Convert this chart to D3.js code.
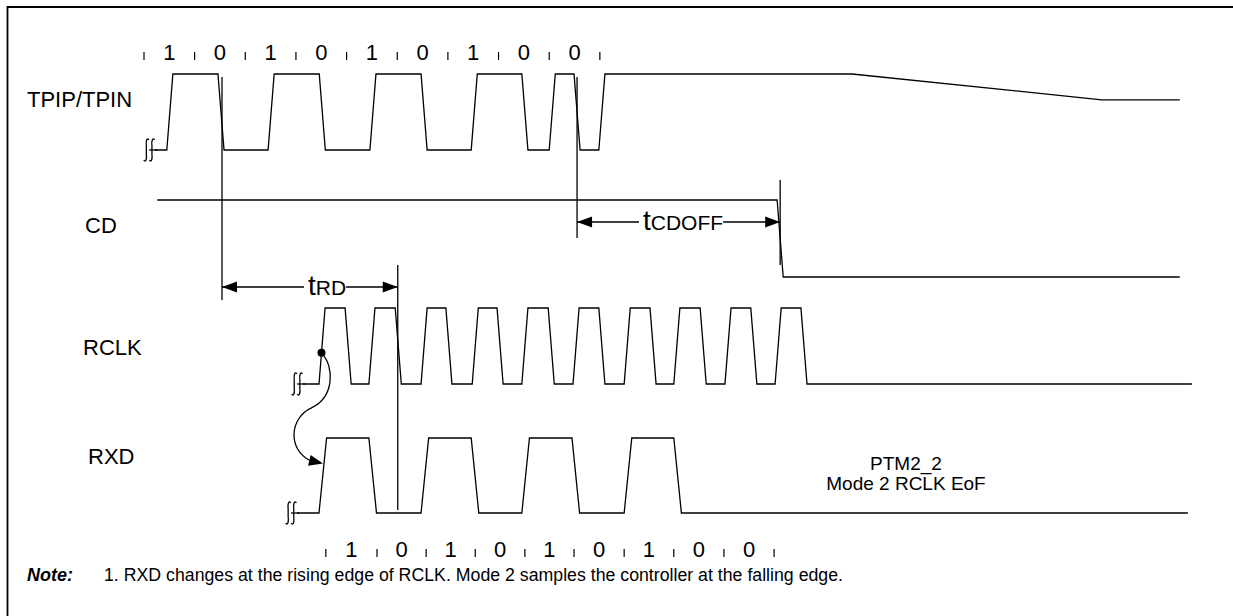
<!DOCTYPE html>
<html><head><meta charset="utf-8">
<script src="https://cdn.jsdelivr.net/npm/d3@7"></script>
<style>
body{margin:0;background:#fff}
svg{display:block}
text{font-family:"Liberation Sans",Arial,Helvetica,sans-serif;fill:#000}
</style>
</head><body>
<svg id="chart" width="1233" height="616"></svg>
<script>
// ---------------- data (time in bit periods) ----------------
const signalNames = ["TPIP/TPIN", "CD", "RCLK", "RXD"];

const tpipStart = [0.22, 0];
const tpipEdges = [[0.45,1],[1.46,0],[2.45,1],[3.46,0],[4.46,1],[5.47,0],[6.46,1],[7.46,0],[8.00,1],[8.49,0],[8.98,1],[13.98,0.66,4.93]];
const tpipEnd = 20.45;

const cdStart = [0.26, 1];
const cdEdges = [[12.50,0]];
const cdEnd = 20.45;

const rclkStart = [3.14, 0];
const rclkRise = [3.455,4.44,5.47,6.48,7.46,8.47,9.48,10.46,11.47,12.46];
const rclkFall = [3.97,4.96,5.96,6.97,7.98,8.98,9.99,10.98,11.98,12.97];
const rclkEnd = 20.69;

const rxdStart = [3.02, 0];
const rxdEdges = [[3.455,1],[4.44,0],[5.47,1],[6.46,0],[7.46,1],[8.45,0],[9.48,1],[10.46,0]];
const rxdEnd = 20.61;

const topTicks = [0,1,2,3,4,5,6,7,8,9];
const topBits = ["1","0","1","0","1","0","1","0","0"];
const bottomTicks = [3.59,4.60,5.57,6.54,7.52,8.49,9.48,10.46,11.45,12.44];
const bottomBits = ["1","0","1","0","1","0","1","0","0"];

const markerTimes = {tpipFall:1.54, tpipLast:8.55, cdFall:12.56, rclkRef:5.01};
const timingLabels = [["t","RD"],["t","CDOFF"]];
const noteLabel = "Note:";
const noteText = "1. RXD changes at the rising edge of RCLK. Mode 2 samples the controller at the falling edge.";
const captionLines = ["PTM2_2","Mode 2 RCLK EoF"];

// ---------------- layout ----------------
const svg = d3.select("#chart");
const x = d3.scaleLinear().domain([0,20]).range([144,1157]);
const rows = {
  tpip: d3.scaleLinear().domain([0,1]).range([150,74]),
  cd:   d3.scaleLinear().domain([0,1]).range([277,200]),
  rclk: d3.scaleLinear().domain([0,1]).range([384,308]),
  rxd:  d3.scaleLinear().domain([0,1]).range([513,438])
};
const SW = 1.3;

// frame
svg.append("path").attr("d","M7.5,616 L7.5,7 L1233,7").attr("fill","none").attr("stroke","#000").attr("stroke-width",1.8);

function wavePoints(start, edges, end, slew){
  const pts=[[start[0],start[1]]]; let cur=start[1];
  edges.forEach(e=>{ const d=e[2]===undefined?slew:e[2]; pts.push([e[0],cur]); pts.push([e[0]+d,e[1]]); cur=e[1]; });
  pts.push([end,cur]); return pts;
}
const rclkEdges = rclkRise.map((r,i)=>[[r,1],[rclkFall[i],0]]).flat();

const waves = [
  {y:rows.tpip, pts:wavePoints(tpipStart,tpipEdges,tpipEnd,0.12)},
  {y:rows.cd,   pts:wavePoints(cdStart,cdEdges,cdEnd,0.12)},
  {y:rows.rclk, pts:wavePoints(rclkStart,rclkEdges,rclkEnd,0.12)},
  {y:rows.rxd,  pts:wavePoints(rxdStart,rxdEdges,rxdEnd,0.15)}
];
waves.forEach(w=>{
  const line=d3.line().x(d=>x(d[0])).y(d=>w.y(d[1]));
  svg.append("path").attr("d",line(w.pts)).attr("fill","none").attr("stroke","#000").attr("stroke-width",SW).attr("stroke-linejoin","miter");
});

// break symbols
function breakSym(cx, cy){
  [-2.8, 2.8].forEach(dx=>{
    const xx=cx+dx;
    svg.append("path").attr("d",`M${xx+2.6},${cy-10} C${xx+0.6},${cy-13} ${xx-0.6},${cy-9} ${xx},${cy-4} L${xx},${cy+4} C${xx+0.6},${cy+9} ${xx-0.6},${cy+13} ${xx-2.6},${cy+10}`)
      .attr("fill","none").attr("stroke","#000").attr("stroke-width",1.3);
  });
  svg.append("line").attr("x1",cx).attr("x2",cx+8).attr("y1",cy).attr("y2",cy).attr("stroke","#000").attr("stroke-width",SW);
}
breakSym(x(tpipStart[0])-6, rows.tpip(0));
breakSym(x(rclkStart[0])-6, rows.rclk(0));
breakSym(x(rxdStart[0])-6, rows.rxd(0));

// vertical markers
function vline(t,y1,y2){ svg.append("line").attr("x1",x(t)).attr("x2",x(t)).attr("y1",y1).attr("y2",y2).attr("stroke","#000").attr("stroke-width",SW); }
vline(markerTimes.tpipFall, 77, 300);
vline(markerTimes.tpipLast, 77, 238);
vline(markerTimes.cdFall, 180, 265);
vline(markerTimes.rclkRef, 265, 510);

// timing arrows
function arrowHead(tipX, y, dir){
  const L=15, H=5.5;
  svg.append("path").attr("d",`M${tipX},${y} L${tipX+dir*L},${y-H} L${tipX+dir*L},${y+H} Z`).attr("fill","#000");
}
function timingArrow(t1,t2,y,lab,textX){
  const x1=x(t1), x2=x(t2);
  const g=svg.append("text").attr("x",textX).attr("y",y+8);
  g.append("tspan").attr("font-size",28).text(lab[0]);
  g.append("tspan").attr("font-size",21).text(lab[1]);
  const bb=g.node().getBBox();
  svg.append("line").attr("x1",x1).attr("x2",bb.x-4).attr("y1",y).attr("y2",y).attr("stroke","#000").attr("stroke-width",SW);
  svg.append("line").attr("x1",bb.x+bb.width).attr("x2",x2).attr("y1",y).attr("y2",y).attr("stroke","#000").attr("stroke-width",SW);
  arrowHead(x1,y,1); arrowHead(x2,y,-1);
}
timingArrow(markerTimes.tpipFall, markerTimes.rclkRef, 287, timingLabels[0], 308);
timingArrow(markerTimes.tpipLast, markerTimes.cdFall, 222, timingLabels[1], 643);

// signal labels
const labelPos = [[27,107],[85,233],[83,355],[88,464]];
signalNames.forEach((n,i)=>{
  svg.append("text").attr("x",labelPos[i][0]).attr("y",labelPos[i][1]).attr("font-size",22).text(n);
});

// bit rows
function bitRow(ticks, bits, base){
  ticks.forEach(t=>{ svg.append("line").attr("x1",x(t)).attr("x2",x(t)).attr("y1",base-8).attr("y2",base).attr("stroke","#000").attr("stroke-width",1.2); });
  bits.forEach((b,i)=>{
    svg.append("text").attr("x",(x(ticks[i])+x(ticks[i+1]))/2).attr("y",base).attr("text-anchor","middle").attr("font-size",22).text(b);
  });
}
bitRow(topTicks, topBits, 60);
bitRow(bottomTicks, bottomBits, 557);

// connector RCLK -> RXD
const fr=0.41, P0=[x(rclkRise[0]+0.12*fr), rows.rclk(fr)];
const ft=0.66, P3=[x(rxdEdges[0][0]+0.15*ft)-1, rows.rxd(ft)];
svg.append("circle").attr("cx",P0[0]).attr("cy",P0[1]).attr("r",4).attr("fill","#000");
const cp = d3.path();
cp.moveTo(P0[0],P0[1]);
cp.bezierCurveTo(P0[0]+14,P0[1]+15, P0[0]+12,P0[1]+45, P0[0]-10,P0[1]+55);
cp.bezierCurveTo(P0[0]-32,P0[1]+65, P0[0]-34,P3[1]-14, P3[0]-13,P3[1]-3);
svg.append("path").attr("d",cp.toString()).attr("fill","none").attr("stroke","#000").attr("stroke-width",SW);
(function(){
  const ang=Math.atan2(3,13), L=14, H=5.5;
  const bx=P3[0]-L*Math.cos(ang), by=P3[1]-L*Math.sin(ang);
  const nx=-Math.sin(ang), ny=Math.cos(ang);
  svg.append("path").attr("d",`M${P3[0]},${P3[1]} L${bx+nx*H},${by+ny*H} L${bx-nx*H},${by-ny*H} Z`).attr("fill","#000");
})();

// caption
captionLines.forEach((c,i)=>{
  svg.append("text").attr("x",906).attr("y",470+i*20).attr("text-anchor","middle").attr("font-size",19).text(c);
});

// note
svg.append("text").attr("x",27).attr("y",581).attr("font-size",18).attr("font-weight","bold").attr("font-style","italic").text(noteLabel);
svg.append("text").attr("x",104).attr("y",581).attr("font-size",17.5).attr("textLength",739).attr("lengthAdjust","spacingAndGlyphs").text(noteText);
</script>
</body></html>
